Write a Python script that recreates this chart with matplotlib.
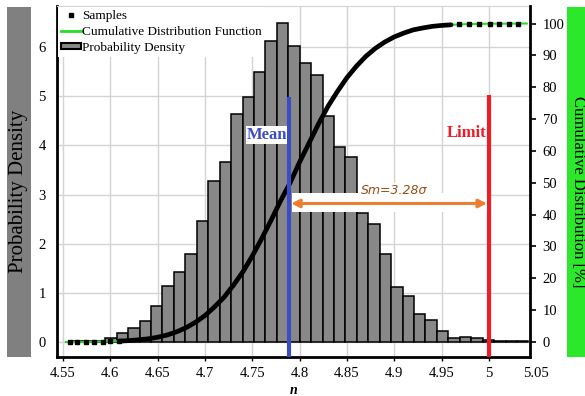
import numpy as np
import matplotlib
matplotlib.use("Agg")
import matplotlib.pyplot as plt
from matplotlib.patches import Patch, Rectangle
from matplotlib.lines import Line2D

plt.rcParams['font.family'] = ['Liberation Serif', 'DejaVu Serif']

# histogram (probability density), 40 bins
bin_start = 4.5585
bin_width = 0.01208
density = [0.02, 0.03, 0.02, 0.09, 0.18, 0.28, 0.43, 0.74, 1.15, 1.43,
           1.79, 2.46, 3.27, 3.67, 4.63, 4.99, 5.49, 6.12, 6.49, 6.02,
           5.68, 5.42, 4.59, 3.96, 3.76, 2.63, 2.41, 1.80, 1.12, 0.93,
           0.57, 0.45, 0.22, 0.09, 0.11, 0.08, 0.04, 0.03, 0.03, 0.02]

# cumulative distribution [%]
cdf_x = [4.553, 4.58, 4.60, 4.61, 4.62, 4.63, 4.64, 4.65, 4.66, 4.67, 4.68,
         4.69, 4.70, 4.71, 4.72, 4.73, 4.74, 4.75, 4.76, 4.77, 4.78, 4.79,
         4.80, 4.81, 4.82, 4.83, 4.84, 4.85, 4.86, 4.87, 4.88, 4.89, 4.90,
         4.91, 4.92, 4.93, 4.94, 4.95, 4.96, 4.98, 5.00, 5.04]
cdf_y = [0.0, 0.05, 0.2, 0.3, 0.45, 0.7, 1.0, 1.5, 2.2, 3.2, 4.5,
         6.2, 8.3, 11.0, 14.0, 17.8, 22.0, 27.0, 32.5, 38.3, 44.4, 50.0,
         56.5, 62.5, 68.5, 74.0, 78.7, 83.0, 86.6, 89.7, 92.2, 94.2, 95.8,
         97.0, 98.0, 98.6, 99.1, 99.4, 99.6, 99.85, 99.95, 100.0]

# sparse samples in the tails
tail_x = [4.557, 4.565, 4.574, 4.583, 4.592, 4.600, 4.609,
          4.968, 4.979, 4.990, 5.001, 5.011, 5.021, 5.031]
tail_y = [0.0, 0.0, 0.0, 0.05, 0.1, 0.2, 0.3,
          99.7, 99.8, 99.9, 99.95, 100.0, 100.0, 100.0]

mean_val = 4.789
limit_val = 5.0
x_ticks = [4.55, 4.6, 4.65, 4.7, 4.75, 4.8, 4.85, 4.9, 4.95, 5.0]
x_labels = ['4.55', '4.6', '4.65', '4.7', '4.75', '4.8', '4.85', '4.9', '4.95', '5']

fig = plt.figure(figsize=(5.85, 3.96), dpi=100)
ax = fig.add_axes([57/585, 1-357/396, (530-57)/585, (357-6)/396])

edges = bin_start + bin_width*np.arange(len(density))
ax.bar(edges, density, width=bin_width, align='edge', color='#888888',
       edgecolor='black', linewidth=1.1, zorder=2)
ax.set_xlim(4.5437, 5.0434)
ax.set_ylim(-0.30, 6.83)
ax.set_xticks(x_ticks)
ax.set_xticklabels(x_labels)
ax.set_yticks(range(0, 7))
ax.grid(True, color='#d4d4d4', linewidth=1)
ax.set_axisbelow(True)
ax.tick_params(axis='y', length=0, labelsize=10.5, pad=8)
ax.tick_params(axis='x', length=3, direction='out', labelsize=10.5, pad=4, width=1)
for s in ['left', 'bottom']:
    ax.spines[s].set_linewidth(2)
ax.spines['top'].set_color('#d4d4d4')
ax.spines['right'].set_visible(False)
ax.text(5.05, -0.047, '5.05', transform=ax.get_xaxis_transform(), ha='center',
        va='center', fontsize=10.5, clip_on=False)
ax.set_xlabel('n', fontsize=10, fontweight='bold', style='italic', labelpad=3)

ax2 = ax.twinx()
ax2.set_ylim(-4.7, 105.5)
ax2.set_yticks(range(0, 101, 10))
ax2.tick_params(axis='y', length=4, width=1.2, direction='out', labelsize=10.5, pad=5)
ax2.spines['right'].set_linewidth(2)
for s in ['top', 'left', 'bottom']:
    ax2.spines[s].set_visible(False)

ax2.plot(cdf_x, cdf_y, color='#22e022', linewidth=1.5, zorder=3)
m = [i for i, v in enumerate(cdf_x) if 4.61 <= v <= 4.96]
ax2.plot([cdf_x[i] for i in m], [cdf_y[i] for i in m], color='black',
         linewidth=3.4, solid_capstyle='round', solid_joinstyle='round', zorder=4)
ax2.plot(tail_x, tail_y, 's', color='black', markersize=2.8, zorder=4)

# mean / limit lines
ax2.vlines(mean_val, -4.7, 77, color='#3b4cc8', linewidth=3, zorder=5)
ax2.vlines(limit_val, -4.7, 77.5, color='#ee1c25', linewidth=3, zorder=5)
ax2.text(mean_val - 0.0025, 65.0, 'Mean', color='#3b4cc8', fontsize=12,
         fontweight='bold', ha='right', va='center', zorder=6,
         bbox=dict(facecolor='white', edgecolor='none', pad=0.5))
ax2.text(limit_val - 0.003, 65.6, 'Limit', color='#ee1c25', fontsize=12,
         fontweight='bold', ha='right', va='center', zorder=6)

# margin arrow
ax2.add_patch(Rectangle((mean_val + 0.0025, 40.8), limit_val - mean_val - 0.005, 6.0,
                        facecolor='white', edgecolor='none', zorder=5))
ax2.annotate('', xy=(limit_val - 0.002, 43.5), xytext=(mean_val + 0.002, 43.5),
             arrowprops=dict(arrowstyle='<|-|>', color='#ed7d31', lw=2.2,
                             mutation_scale=12, shrinkA=0, shrinkB=0), zorder=6)
ax2.text(4.8996, 47.6, 'Sm=3.28σ', color='#9c4a10', fontsize=9, style='italic',
         family='DejaVu Sans', ha='center', va='center', zorder=6,
         bbox=dict(facecolor='white', edgecolor='none', pad=1))

handles = [Line2D([], [], marker='s', linestyle='none', color='black', markersize=3),
           Line2D([], [], color='#22e022', linewidth=2),
           Patch(facecolor='#888888', edgecolor='black', linewidth=1.5)]
leg = ax2.legend(handles, ['Samples', 'Cumulative Distribution Function', 'Probability Density'],
                 loc='upper left', bbox_to_anchor=(0.0, 1.0), fontsize=9.5, frameon=True,
                 fancybox=False, edgecolor='none', framealpha=1, borderaxespad=0.1,
                 handlelength=1.5, handleheight=0.4, handletextpad=0.1, labelspacing=0.3,
                 borderpad=0.2)
leg.set_zorder(10)

# axis title boxes
fig.patches.append(Rectangle((7/585, 1-357/396), 24/585, 350/396, facecolor='#808080',
                             edgecolor='none', transform=fig.transFigure, zorder=0))
fig.text(19/585, 1-191/396, 'Probability Density', rotation=90, ha='center',
         va='center', fontsize=15)
fig.patches.append(Rectangle((567/585, 1-357/396), 20/585, 350/396, facecolor='#2be82b',
                             edgecolor='none', transform=fig.transFigure, zorder=0))
fig.text(578/585, 1-192/396, 'Cumulative Distribution [%]', rotation=-90, ha='center',
         va='center', fontsize=12)

fig.savefig('out.png', dpi=100)
